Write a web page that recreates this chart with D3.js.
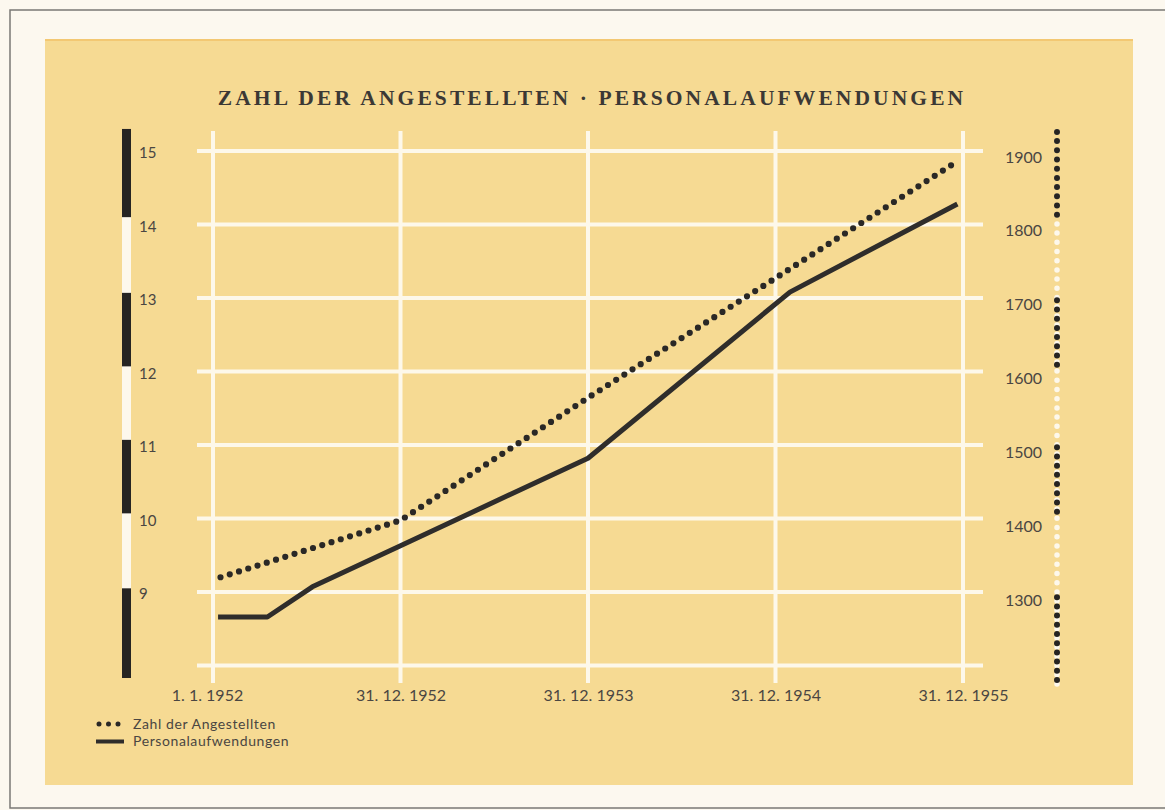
<!DOCTYPE html>
<html>
<head>
<meta charset="utf-8">
<script src="https://cdn.jsdelivr.net/npm/d3@7"></script>
<style>
  html, body { margin: 0; padding: 0; background: #fcf8ef; }
  svg { display: block; }
</style>
</head>
<body>
<script>
// ---- data ----
const titleText = "ZAHL DER ANGESTELLTEN · PERSONALAUFWENDUNGEN";
const xTickValues = [0, 1, 2, 3, 4];
const xTickLabels = ["1. 1. 1952", "31. 12. 1952", "31. 12. 1953", "31. 12. 1954", "31. 12. 1955"];
const leftTicks = [9, 10, 11, 12, 13, 14, 15];          // Personalaufwendungen (Mio DM)
const rightTicks = [1300, 1400, 1500, 1600, 1700, 1800, 1900]; // Zahl der Angestellten
const gridTicks = [8, 9, 10, 11, 12, 13, 14, 15];
// left scale bar: black segments (left units)
const leftBarRange = [7.83, 15.3];
const leftBarBlack = [[14.1, 15.3], [12.07, 13.07], [10.07, 11.07], [7.83, 9.05]];
// right scale bar: dotted segments (right units)
const rightBarRange = [1185, 1934];
const rightBarDots = [[1818, 1934], [1616, 1706], [1412, 1507], [1185, 1304]];
// series (x in years since 1.1.1952)
const personalX = [0.027, 0.29, 0.53, 1.0, 2.0, 3.077, 3.97];
const personalY = [8.66, 8.66, 9.07, 9.63, 10.82, 13.08, 14.28];
const angestellteX = [0.04, 1.0, 2.0, 3.0, 3.95];
const angestellteY = [1331, 1408, 1574, 1736, 1891];
const legendLabels = ["Zahl der Angestellten", "Personalaufwendungen"];

// ---- drawing ----
const W = 1165, H = 810;
const ink = "#3b3835", textCol = "#4a4642", paper = "#f6da93", gridCol = "#fdf8ea";
const svg = d3.select("body").append("svg").attr("width", W).attr("height", H);

svg.append("rect").attr("x", 10).attr("y", 10).attr("width", W).attr("height", H - 12)
  .attr("fill", "#fcf8ef").attr("stroke", "#7a7875").attr("stroke-width", 1.5);
svg.append("rect").attr("x", 45).attr("y", 39).attr("width", 1088).attr("height", 746)
  .attr("fill", paper);
svg.append("rect").attr("x", 45).attr("y", 39).attr("width", 1088).attr("height", 2)
  .attr("fill", "#f3c873");

const x = d3.scaleLinear().domain([0, 4]).range([213, 963]);
const yL = d3.scaleLinear().domain([8, 15]).range([665.5, 151]);
const yR = d3.scaleLinear().domain([1200, 1900]).range([674, 157]);

// grid
const g = svg.append("g");
g.selectAll(".hg").data(gridTicks).join("line")
  .attr("x1", 197).attr("x2", 983)
  .attr("y1", d => yL(d)).attr("y2", d => yL(d))
  .attr("stroke", gridCol).attr("stroke-width", 4);
g.selectAll(".vg").data(xTickValues).join("line")
  .attr("x1", d => x(d)).attr("x2", d => x(d))
  .attr("y1", 131).attr("y2", 683)
  .attr("stroke", gridCol).attr("stroke-width", 4);

// title
svg.append("text").attr("x", 592).attr("y", 105).attr("text-anchor", "middle")
  .attr("font-family", "Liberation Serif, serif").attr("font-size", 21.5)
  .attr("font-weight", "bold")
  .attr("letter-spacing", 3.1).attr("fill", ink).text(titleText);

// x axis labels
const xAxis = d3.axisBottom(x).tickValues(xTickValues)
  .tickFormat((d, i) => xTickLabels[i]).tickSize(0).tickPadding(0);
const xa = svg.append("g").attr("transform", "translate(0,701)").call(xAxis);
xa.select(".domain").remove();
xa.selectAll("text").attr("font-family", "Lato, sans-serif").attr("font-size", 16)
  .attr("fill", textCol).attr("dy", 0).attr("dx", (d, i) => i === 0 ? -6 : 0);

// left bar
svg.append("rect").attr("x", 122).attr("width", 9)
  .attr("y", yL(leftBarRange[1])).attr("height", yL(leftBarRange[0]) - yL(leftBarRange[1]))
  .attr("fill", "#fdf8ec");
svg.selectAll(".lb").data(leftBarBlack).join("rect")
  .attr("x", 122).attr("width", 9)
  .attr("y", d => yL(d[1])).attr("height", d => yL(d[0]) - yL(d[1]))
  .attr("fill", "#262422");

// left axis labels
const yAxisL = d3.axisRight(yL).tickValues(leftTicks).tickFormat(d3.format("d"))
  .tickSize(0).tickPadding(0);
const la = svg.append("g").attr("transform", "translate(139,2)").call(yAxisL);
la.select(".domain").remove();
la.selectAll("text").attr("font-family", "Lato, sans-serif").attr("font-size", 15)
  .attr("fill", textCol);

// right axis labels
const yAxisR = d3.axisRight(yR).tickValues(rightTicks).tickFormat(d3.format("d"))
  .tickSize(0).tickPadding(0);
const ra = svg.append("g").attr("transform", "translate(1005,0)").call(yAxisR);
ra.select(".domain").remove();
ra.selectAll("text").attr("font-family", "Lato, sans-serif").attr("font-size", 16)
  .attr("fill", textCol);

// right dotted bar
svg.append("line").attr("x1", 1057).attr("x2", 1057)
  .attr("y1", yR(rightBarRange[1])).attr("y2", yR(rightBarRange[0]))
  .attr("stroke", "#fdf8ec").attr("stroke-width", 5.5)
  .attr("stroke-linecap", "round").attr("stroke-dasharray", "0 9.2");
svg.selectAll(".rb").data(rightBarDots).join("line")
  .attr("x1", 1057).attr("x2", 1057)
  .attr("y1", d => yR(d[1])).attr("y2", d => yR(d[0]))
  .attr("stroke", "#262422").attr("stroke-width", 6)
  .attr("stroke-linecap", "round").attr("stroke-dasharray", "0 9.2");

// series
const personal = personalX.map((d, i) => [d, personalY[i]]);
const angest = angestellteX.map((d, i) => [d, angestellteY[i]]);
svg.append("path").datum(personal)
  .attr("d", d3.line().x(d => x(d[0])).y(d => yL(d[1])))
  .attr("fill", "none").attr("stroke", "#2f2d2b").attr("stroke-width", 5)
  .attr("stroke-linejoin", "round");
svg.append("path").datum(angest)
  .attr("d", d3.line().x(d => x(d[0])).y(d => yR(d[1])))
  .attr("fill", "none").attr("stroke", "#2a2826").attr("stroke-width", 6.2)
  .attr("stroke-linecap", "round").attr("stroke-dasharray", "0 9.7");

// legend
const lg = svg.append("g");
lg.append("line").attr("x1", 99).attr("x2", 122).attr("y1", 724).attr("y2", 724)
  .attr("stroke", "#2a2826").attr("stroke-width", 5).attr("stroke-linecap", "round")
  .attr("stroke-dasharray", "0 9.5");
lg.append("line").attr("x1", 96).attr("x2", 124).attr("y1", 741.5).attr("y2", 741.5)
  .attr("stroke", "#2f2d2b").attr("stroke-width", 4);
lg.selectAll("text").data(legendLabels).join("text")
  .attr("x", 133).attr("y", (d, i) => 729 + i * 17)
  .attr("font-family", "Lato, sans-serif").attr("font-size", 14)
  .attr("letter-spacing", 0.6).attr("fill", textCol).text(d => d);
</script>
</body>
</html>
